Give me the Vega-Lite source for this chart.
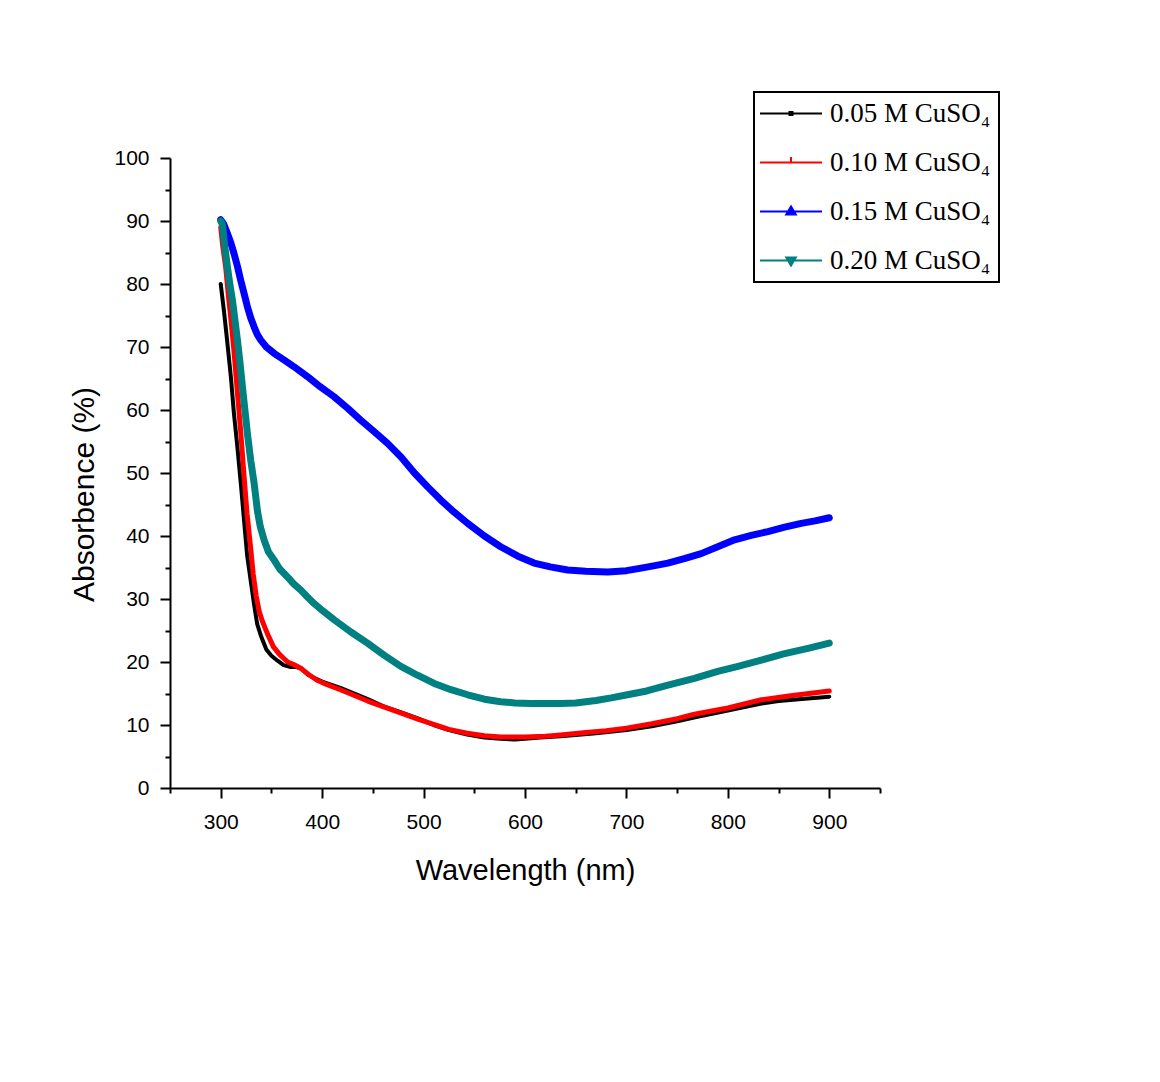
{
  "$schema": "https://vega.github.io/schema/vega-lite/v6.json",
  "autosize": {"type": "none"},
  "padding": {"left": 170, "top": 158, "right": 280, "bottom": 294},
  "width": 710,
  "height": 630,
  "background": "white",
  "config": {
    "view": {"stroke": null},
    "legend": {"strokeWidth": 2},
    "axis": {
      "labelFont": "Liberation Sans",
      "labelFontSize": 21,
      "labelColor": "black",
      "titleFont": "Liberation Sans",
      "titleFontSize": 29,
      "titleFontWeight": "normal",
      "titleColor": "black",
      "domainColor": "black",
      "domainWidth": 2,
      "tickColor": "black",
      "tickWidth": 2,
      "grid": false
    }
  },
  "data": {
    "values": [
      {"series": "0.05 M CuSO₄", "wl": 300, "abs": 80.0},
      {"series": "0.05 M CuSO₄", "wl": 303, "abs": 76.0},
      {"series": "0.05 M CuSO₄", "wl": 306, "abs": 71.5},
      {"series": "0.05 M CuSO₄", "wl": 310, "abs": 65.3},
      {"series": "0.05 M CuSO₄", "wl": 313, "abs": 59.5},
      {"series": "0.05 M CuSO₄", "wl": 316.5, "abs": 54.0},
      {"series": "0.05 M CuSO₄", "wl": 320, "abs": 48.0},
      {"series": "0.05 M CuSO₄", "wl": 323, "abs": 42.5},
      {"series": "0.05 M CuSO₄", "wl": 326, "abs": 37.0},
      {"series": "0.05 M CuSO₄", "wl": 329.5, "abs": 33.0},
      {"series": "0.05 M CuSO₄", "wl": 333, "abs": 29.0},
      {"series": "0.05 M CuSO₄", "wl": 336, "abs": 26.0},
      {"series": "0.05 M CuSO₄", "wl": 340, "abs": 24.0},
      {"series": "0.05 M CuSO₄", "wl": 345, "abs": 22.0},
      {"series": "0.05 M CuSO₄", "wl": 350, "abs": 21.0},
      {"series": "0.05 M CuSO₄", "wl": 356, "abs": 20.2},
      {"series": "0.05 M CuSO₄", "wl": 362, "abs": 19.5},
      {"series": "0.05 M CuSO₄", "wl": 369, "abs": 19.2},
      {"series": "0.05 M CuSO₄", "wl": 375, "abs": 19.2},
      {"series": "0.05 M CuSO₄", "wl": 380, "abs": 18.9},
      {"series": "0.05 M CuSO₄", "wl": 386, "abs": 18.0},
      {"series": "0.05 M CuSO₄", "wl": 392, "abs": 17.5},
      {"series": "0.05 M CuSO₄", "wl": 400, "abs": 16.9},
      {"series": "0.05 M CuSO₄", "wl": 418, "abs": 15.9},
      {"series": "0.05 M CuSO₄", "wl": 430, "abs": 15.1},
      {"series": "0.05 M CuSO₄", "wl": 445, "abs": 14.1},
      {"series": "0.05 M CuSO₄", "wl": 460, "abs": 13.0},
      {"series": "0.05 M CuSO₄", "wl": 478, "abs": 12.0},
      {"series": "0.05 M CuSO₄", "wl": 495, "abs": 11.0},
      {"series": "0.05 M CuSO₄", "wl": 510, "abs": 10.0},
      {"series": "0.05 M CuSO₄", "wl": 525, "abs": 9.2},
      {"series": "0.05 M CuSO₄", "wl": 543, "abs": 8.5},
      {"series": "0.05 M CuSO₄", "wl": 560, "abs": 8.0},
      {"series": "0.05 M CuSO₄", "wl": 576, "abs": 7.8},
      {"series": "0.05 M CuSO₄", "wl": 590, "abs": 7.7},
      {"series": "0.05 M CuSO₄", "wl": 600, "abs": 7.8},
      {"series": "0.05 M CuSO₄", "wl": 615, "abs": 8.0},
      {"series": "0.05 M CuSO₄", "wl": 635, "abs": 8.2},
      {"series": "0.05 M CuSO₄", "wl": 650, "abs": 8.4},
      {"series": "0.05 M CuSO₄", "wl": 670, "abs": 8.7},
      {"series": "0.05 M CuSO₄", "wl": 700, "abs": 9.2},
      {"series": "0.05 M CuSO₄", "wl": 725, "abs": 9.8},
      {"series": "0.05 M CuSO₄", "wl": 750, "abs": 10.6},
      {"series": "0.05 M CuSO₄", "wl": 770, "abs": 11.3},
      {"series": "0.05 M CuSO₄", "wl": 800, "abs": 12.3},
      {"series": "0.05 M CuSO₄", "wl": 833, "abs": 13.4},
      {"series": "0.05 M CuSO₄", "wl": 850, "abs": 13.8},
      {"series": "0.05 M CuSO₄", "wl": 870, "abs": 14.1},
      {"series": "0.05 M CuSO₄", "wl": 900, "abs": 14.5},

      {"series": "0.10 M CuSO₄", "wl": 300, "abs": 89.0},
      {"series": "0.10 M CuSO₄", "wl": 302, "abs": 86.0},
      {"series": "0.10 M CuSO₄", "wl": 305, "abs": 82.5},
      {"series": "0.10 M CuSO₄", "wl": 308, "abs": 77.5},
      {"series": "0.10 M CuSO₄", "wl": 310, "abs": 74.5},
      {"series": "0.10 M CuSO₄", "wl": 313, "abs": 69.5},
      {"series": "0.10 M CuSO₄", "wl": 316.5, "abs": 62.7},
      {"series": "0.10 M CuSO₄", "wl": 320, "abs": 56.0},
      {"series": "0.10 M CuSO₄", "wl": 323, "abs": 49.5},
      {"series": "0.10 M CuSO₄", "wl": 326, "abs": 43.5},
      {"series": "0.10 M CuSO₄", "wl": 329.6, "abs": 38.0},
      {"series": "0.10 M CuSO₄", "wl": 332, "abs": 34.0},
      {"series": "0.10 M CuSO₄", "wl": 335, "abs": 30.5},
      {"series": "0.10 M CuSO₄", "wl": 338, "abs": 28.0},
      {"series": "0.10 M CuSO₄", "wl": 341, "abs": 26.5},
      {"series": "0.10 M CuSO₄", "wl": 346, "abs": 24.5},
      {"series": "0.10 M CuSO₄", "wl": 352, "abs": 22.4},
      {"series": "0.10 M CuSO₄", "wl": 358, "abs": 21.2},
      {"series": "0.10 M CuSO₄", "wl": 366, "abs": 20.0},
      {"series": "0.10 M CuSO₄", "wl": 372, "abs": 19.6},
      {"series": "0.10 M CuSO₄", "wl": 379, "abs": 19.0},
      {"series": "0.10 M CuSO₄", "wl": 386, "abs": 18.1},
      {"series": "0.10 M CuSO₄", "wl": 395, "abs": 17.1},
      {"series": "0.10 M CuSO₄", "wl": 405, "abs": 16.4},
      {"series": "0.10 M CuSO₄", "wl": 418, "abs": 15.6},
      {"series": "0.10 M CuSO₄", "wl": 430, "abs": 14.8},
      {"series": "0.10 M CuSO₄", "wl": 445, "abs": 13.8},
      {"series": "0.10 M CuSO₄", "wl": 460, "abs": 12.9},
      {"series": "0.10 M CuSO₄", "wl": 478, "abs": 11.9},
      {"series": "0.10 M CuSO₄", "wl": 495, "abs": 10.9},
      {"series": "0.10 M CuSO₄", "wl": 510, "abs": 10.1},
      {"series": "0.10 M CuSO₄", "wl": 525, "abs": 9.3},
      {"series": "0.10 M CuSO₄", "wl": 543, "abs": 8.7},
      {"series": "0.10 M CuSO₄", "wl": 560, "abs": 8.3},
      {"series": "0.10 M CuSO₄", "wl": 576, "abs": 8.1},
      {"series": "0.10 M CuSO₄", "wl": 600, "abs": 8.1},
      {"series": "0.10 M CuSO₄", "wl": 620, "abs": 8.2},
      {"series": "0.10 M CuSO₄", "wl": 635, "abs": 8.4},
      {"series": "0.10 M CuSO₄", "wl": 660, "abs": 8.8},
      {"series": "0.10 M CuSO₄", "wl": 680, "abs": 9.1},
      {"series": "0.10 M CuSO₄", "wl": 700, "abs": 9.5},
      {"series": "0.10 M CuSO₄", "wl": 725, "abs": 10.2},
      {"series": "0.10 M CuSO₄", "wl": 750, "abs": 11.0},
      {"series": "0.10 M CuSO₄", "wl": 767, "abs": 11.7},
      {"series": "0.10 M CuSO₄", "wl": 800, "abs": 12.7},
      {"series": "0.10 M CuSO₄", "wl": 833, "abs": 14.0},
      {"series": "0.10 M CuSO₄", "wl": 860, "abs": 14.6},
      {"series": "0.10 M CuSO₄", "wl": 880, "abs": 15.0},
      {"series": "0.10 M CuSO₄", "wl": 900, "abs": 15.4},

      {"series": "0.15 M CuSO₄", "wl": 300, "abs": 90.2},
      {"series": "0.15 M CuSO₄", "wl": 303, "abs": 89.5},
      {"series": "0.15 M CuSO₄", "wl": 306.6, "abs": 88.0},
      {"series": "0.15 M CuSO₄", "wl": 310, "abs": 86.5},
      {"series": "0.15 M CuSO₄", "wl": 313, "abs": 84.9},
      {"series": "0.15 M CuSO₄", "wl": 316.5, "abs": 82.8},
      {"series": "0.15 M CuSO₄", "wl": 319.7, "abs": 80.6},
      {"series": "0.15 M CuSO₄", "wl": 323, "abs": 78.5},
      {"series": "0.15 M CuSO₄", "wl": 326.3, "abs": 76.4},
      {"series": "0.15 M CuSO₄", "wl": 329.6, "abs": 74.6},
      {"series": "0.15 M CuSO₄", "wl": 332.9, "abs": 73.2},
      {"series": "0.15 M CuSO₄", "wl": 336, "abs": 72.0},
      {"series": "0.15 M CuSO₄", "wl": 339.5, "abs": 71.1},
      {"series": "0.15 M CuSO₄", "wl": 345, "abs": 70.0},
      {"series": "0.15 M CuSO₄", "wl": 352.6, "abs": 69.0},
      {"series": "0.15 M CuSO₄", "wl": 362, "abs": 68.0},
      {"series": "0.15 M CuSO₄", "wl": 372, "abs": 66.9},
      {"series": "0.15 M CuSO₄", "wl": 385.5, "abs": 65.3},
      {"series": "0.15 M CuSO₄", "wl": 398, "abs": 63.7},
      {"series": "0.15 M CuSO₄", "wl": 411.8, "abs": 62.1},
      {"series": "0.15 M CuSO₄", "wl": 425, "abs": 60.3},
      {"series": "0.15 M CuSO₄", "wl": 438, "abs": 58.4},
      {"series": "0.15 M CuSO₄", "wl": 451, "abs": 56.6},
      {"series": "0.15 M CuSO₄", "wl": 464.5, "abs": 54.7},
      {"series": "0.15 M CuSO₄", "wl": 478, "abs": 52.5},
      {"series": "0.15 M CuSO₄", "wl": 491, "abs": 50.0},
      {"series": "0.15 M CuSO₄", "wl": 504, "abs": 47.8},
      {"series": "0.15 M CuSO₄", "wl": 517, "abs": 45.7},
      {"series": "0.15 M CuSO₄", "wl": 530, "abs": 43.8},
      {"series": "0.15 M CuSO₄", "wl": 543.5, "abs": 42.0},
      {"series": "0.15 M CuSO₄", "wl": 560, "abs": 40.0},
      {"series": "0.15 M CuSO₄", "wl": 576, "abs": 38.3},
      {"series": "0.15 M CuSO₄", "wl": 593, "abs": 36.8},
      {"series": "0.15 M CuSO₄", "wl": 609, "abs": 35.7},
      {"series": "0.15 M CuSO₄", "wl": 625, "abs": 35.1},
      {"series": "0.15 M CuSO₄", "wl": 642, "abs": 34.6},
      {"series": "0.15 M CuSO₄", "wl": 660, "abs": 34.4},
      {"series": "0.15 M CuSO₄", "wl": 681.6, "abs": 34.3},
      {"series": "0.15 M CuSO₄", "wl": 700, "abs": 34.5},
      {"series": "0.15 M CuSO₄", "wl": 714.5, "abs": 34.9},
      {"series": "0.15 M CuSO₄", "wl": 728, "abs": 35.3},
      {"series": "0.15 M CuSO₄", "wl": 740.8, "abs": 35.7},
      {"series": "0.15 M CuSO₄", "wl": 757, "abs": 36.4},
      {"series": "0.15 M CuSO₄", "wl": 773.7, "abs": 37.2},
      {"series": "0.15 M CuSO₄", "wl": 790, "abs": 38.3},
      {"series": "0.15 M CuSO₄", "wl": 806.6, "abs": 39.4},
      {"series": "0.15 M CuSO₄", "wl": 823, "abs": 40.1},
      {"series": "0.15 M CuSO₄", "wl": 839.5, "abs": 40.7},
      {"series": "0.15 M CuSO₄", "wl": 856, "abs": 41.4},
      {"series": "0.15 M CuSO₄", "wl": 872.3, "abs": 42.0},
      {"series": "0.15 M CuSO₄", "wl": 886, "abs": 42.4},
      {"series": "0.15 M CuSO₄", "wl": 900, "abs": 42.9},

      {"series": "0.20 M CuSO₄", "wl": 300, "abs": 90.0},
      {"series": "0.20 M CuSO₄", "wl": 301.6, "abs": 89.5},
      {"series": "0.20 M CuSO₄", "wl": 304, "abs": 86.0},
      {"series": "0.20 M CuSO₄", "wl": 306.6, "abs": 82.7},
      {"series": "0.20 M CuSO₄", "wl": 309, "abs": 80.0},
      {"series": "0.20 M CuSO₄", "wl": 311.5, "abs": 77.5},
      {"series": "0.20 M CuSO₄", "wl": 314, "abs": 74.3},
      {"series": "0.20 M CuSO₄", "wl": 316.5, "abs": 71.1},
      {"series": "0.20 M CuSO₄", "wl": 319, "abs": 67.5},
      {"series": "0.20 M CuSO₄", "wl": 321.4, "abs": 63.7},
      {"series": "0.20 M CuSO₄", "wl": 324, "abs": 59.8},
      {"series": "0.20 M CuSO₄", "wl": 326.3, "abs": 56.3},
      {"series": "0.20 M CuSO₄", "wl": 329.6, "abs": 52.0},
      {"series": "0.20 M CuSO₄", "wl": 332.9, "abs": 48.4},
      {"series": "0.20 M CuSO₄", "wl": 336.2, "abs": 44.0},
      {"series": "0.20 M CuSO₄", "wl": 339, "abs": 41.5},
      {"series": "0.20 M CuSO₄", "wl": 342.7, "abs": 39.4},
      {"series": "0.20 M CuSO₄", "wl": 347, "abs": 37.5},
      {"series": "0.20 M CuSO₄", "wl": 352.6, "abs": 36.2},
      {"series": "0.20 M CuSO₄", "wl": 358, "abs": 34.8},
      {"series": "0.20 M CuSO₄", "wl": 365.8, "abs": 33.5},
      {"series": "0.20 M CuSO₄", "wl": 372, "abs": 32.4},
      {"series": "0.20 M CuSO₄", "wl": 379, "abs": 31.4},
      {"series": "0.20 M CuSO₄", "wl": 385, "abs": 30.4},
      {"series": "0.20 M CuSO₄", "wl": 392, "abs": 29.3},
      {"series": "0.20 M CuSO₄", "wl": 400, "abs": 28.2},
      {"series": "0.20 M CuSO₄", "wl": 411.8, "abs": 26.7},
      {"series": "0.20 M CuSO₄", "wl": 428, "abs": 24.8},
      {"series": "0.20 M CuSO₄", "wl": 444.7, "abs": 23.0},
      {"series": "0.20 M CuSO₄", "wl": 461, "abs": 21.1},
      {"series": "0.20 M CuSO₄", "wl": 477.6, "abs": 19.3},
      {"series": "0.20 M CuSO₄", "wl": 494, "abs": 17.9},
      {"series": "0.20 M CuSO₄", "wl": 510.5, "abs": 16.6},
      {"series": "0.20 M CuSO₄", "wl": 527, "abs": 15.6},
      {"series": "0.20 M CuSO₄", "wl": 543.5, "abs": 14.8},
      {"series": "0.20 M CuSO₄", "wl": 560, "abs": 14.1},
      {"series": "0.20 M CuSO₄", "wl": 576, "abs": 13.7},
      {"series": "0.20 M CuSO₄", "wl": 590, "abs": 13.5},
      {"series": "0.20 M CuSO₄", "wl": 606, "abs": 13.4},
      {"series": "0.20 M CuSO₄", "wl": 620, "abs": 13.4},
      {"series": "0.20 M CuSO₄", "wl": 635, "abs": 13.4},
      {"series": "0.20 M CuSO₄", "wl": 650, "abs": 13.5},
      {"series": "0.20 M CuSO₄", "wl": 670, "abs": 13.9},
      {"series": "0.20 M CuSO₄", "wl": 685, "abs": 14.3},
      {"series": "0.20 M CuSO₄", "wl": 701, "abs": 14.8},
      {"series": "0.20 M CuSO₄", "wl": 720, "abs": 15.4},
      {"series": "0.20 M CuSO₄", "wl": 740, "abs": 16.3},
      {"series": "0.20 M CuSO₄", "wl": 767, "abs": 17.4},
      {"series": "0.20 M CuSO₄", "wl": 790, "abs": 18.5},
      {"series": "0.20 M CuSO₄", "wl": 810, "abs": 19.3},
      {"series": "0.20 M CuSO₄", "wl": 833, "abs": 20.3},
      {"series": "0.20 M CuSO₄", "wl": 855, "abs": 21.3},
      {"series": "0.20 M CuSO₄", "wl": 880, "abs": 22.2},
      {"series": "0.20 M CuSO₄", "wl": 900, "abs": 23.0}
    ]
  },
  "encoding": {
    "x": {
      "field": "wl", "type": "quantitative",
      "scale": {"domain": [250, 950], "nice": false, "zero": false},
      "axis": {
        "title": "Wavelength (nm)",
        "values": [250, 300, 350, 400, 450, 500, 550, 600, 650, 700, 750, 800, 850, 900, 950],
        "labelExpr": "datum.value % 100 === 0 ? datum.label : ''",
        "tickSize": {"condition": {"test": "datum.value % 100 === 0", "value": 10}, "value": 5},
        "labelPadding": 13,
        "titlePadding": 24,
        "labelFlush": false,
        "labelOverlap": false
      }
    },
    "y": {
      "field": "abs", "type": "quantitative",
      "scale": {"domain": [0, 100], "nice": false},
      "axis": {
        "title": "Absorbence (%)",
        "titleFontSize": 30,
        "titleY": 336,
        "values": [0, 5, 10, 15, 20, 25, 30, 35, 40, 45, 50, 55, 60, 65, 70, 75, 80, 85, 90, 95, 100],
        "labelExpr": "datum.value % 10 === 0 ? datum.label : ''",
        "tickSize": {"condition": {"test": "datum.value % 10 === 0", "value": 10}, "value": 5},
        "labelPadding": 11,
        "titlePadding": 14,
        "labelFlush": false,
        "labelOverlap": false
      }
    },
    "color": {
      "field": "series", "type": "nominal",
      "scale": {
        "domain": ["0.05 M CuSO₄", "0.10 M CuSO₄", "0.15 M CuSO₄", "0.20 M CuSO₄"],
        "range": ["#000000", "#FF0000", "#0000FF", "#008080"]
      },
      "legend": {
        "orient": "none",
        "legendX": 584,
        "legendY": -66,
        "title": null,
        "labelFont": "Liberation Serif",
        "labelFontSize": 27,
        "labelColor": "black",
        "labelLimit": 400,
        "labelOffset": 25.5,
        "symbolOffset": 15.5,
        "symbolSize": 100,
        "symbolStrokeWidth": 2,
        "symbolOpacity": 1,
        "strokeColor": "black",
        "padding": 8,
        "rowPadding": 21
      }
    }
  },
  "layer": [
    {
      "mark": {"type": "point", "filled": false, "opacity": 0, "size": 100},
      "encoding": {
        "shape": {
          "field": "series", "type": "nominal",
          "scale": {
            "domain": ["0.05 M CuSO₄", "0.10 M CuSO₄", "0.15 M CuSO₄", "0.20 M CuSO₄"],
            "range": [
              "M-6.2,0H6.2M-0.3,-0.3H0.3V0.3H-0.3Z",
              "M-6.2,0H6.2M0,-1.1V0",
              "M-6.2,0H6.2M-0.95,0.6L0,-1.0L0.95,0.6ZM-0.45,0.3L0,-0.4L0.45,0.3Z",
              "M-6.2,0H6.2M-0.95,-0.6L0,1.0L0.95,-0.6ZM-0.45,-0.3L0,0.4L0.45,-0.3Z"
            ]
          },
          "legend": {
            "orient": "none",
            "legendX": 584,
            "legendY": -66,
            "title": null,
            "labelFont": "Liberation Serif",
            "labelFontSize": 27,
            "labelColor": "black",
            "labelLimit": 400,
            "labelOffset": 25.5,
            "symbolOffset": 15.5,
            "symbolSize": 100,
            "symbolStrokeWidth": 2,
            "symbolOpacity": 1,
            "strokeColor": "black",
            "padding": 8,
            "rowPadding": 21
          }
        }
      }
    },
    {
      "transform": [{"filter": "datum.series === '0.05 M CuSO₄'"}],
      "mark": {"type": "line", "strokeWidth": 4, "strokeJoin": "round", "strokeCap": "round"}
    },
    {
      "transform": [{"filter": "datum.series === '0.10 M CuSO₄'"}],
      "mark": {"type": "line", "strokeWidth": 5, "strokeJoin": "round", "strokeCap": "round"}
    },
    {
      "transform": [{"filter": "datum.series === '0.15 M CuSO₄'"}],
      "mark": {"type": "line", "strokeWidth": 7, "strokeJoin": "round", "strokeCap": "round"}
    },
    {
      "transform": [{"filter": "datum.series === '0.20 M CuSO₄'"}],
      "mark": {"type": "line", "strokeWidth": 7, "strokeJoin": "round", "strokeCap": "round"}
    }
  ]
}
